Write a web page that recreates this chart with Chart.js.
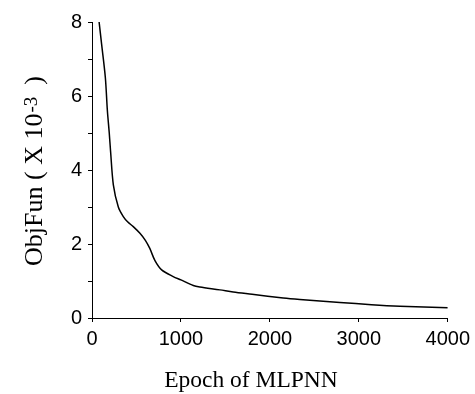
<!DOCTYPE html>
<html>
<head>
<meta charset="utf-8">
<script src="https://cdn.jsdelivr.net/npm/chart.js@4/dist/chart.umd.min.js"></script>
<style>
  body { margin: 0; background: #fff; }
  #wrap { width: 475px; height: 394px; }
</style>
</head>
<body>
<div id="wrap"><canvas id="objFun"></canvas></div>
<script>
// epochs and objective values (x 10^-3)
var epochs = [80, 108, 150, 173, 194, 209, 240, 296, 352, 400, 464, 539, 600, 650, 708, 783, 913, 1000, 1139, 1213, 1438, 1588, 1800, 2150, 2337, 2787, 3142, 3461, 4000];
var objFun = [8.0, 7.4, 6.5, 5.6, 5.0, 4.5, 3.6, 3.0, 2.74, 2.6, 2.47, 2.29, 2.1, 1.88, 1.55, 1.3, 1.12, 1.03, 0.88, 0.84, 0.76, 0.70, 0.64, 0.54, 0.50, 0.42, 0.36, 0.32, 0.28];
var xTicks = [0, 1000, 2000, 3000, 4000];
var yTicks = [0, 2, 4, 6, 8];
var xTitle = 'Epoch of MLPNN';
var yTitle = ['ObjFun ( X 10', '-3', '  )'];

var pts = epochs.map(function(e, i) { return { x: e, y: objFun[i] }; });

// axis titles drawn by hand so the exponent can be raised
var titles = {
    id: 'titles',
    afterDraw: function(c) {
        var ctx = c.ctx;
        ctx.save();
        ctx.fillStyle = '#000';
        ctx.textBaseline = 'alphabetic';

        ctx.font = '23.5px "Liberation Serif"';
        ctx.textAlign = 'left';
        var w = ctx.measureText(xTitle).width;
        ctx.fillText(xTitle, 251 - w / 2, 387);

        ctx.translate(42, 171);
        ctx.rotate(-Math.PI / 2);
        var big = '26px "Liberation Serif"', small = '19px "Liberation Serif"';
        ctx.font = big; var w0 = ctx.measureText(yTitle[0]).width;
        ctx.font = small; var w1 = ctx.measureText(yTitle[1]).width;
        ctx.font = big; var w2 = ctx.measureText(yTitle[2]).width;
        var x0 = -(w0 + w1 + w2) / 2;
        ctx.fillText(yTitle[0], x0, 0);
        ctx.fillText(yTitle[2], x0 + w0 + w1, 0);
        ctx.font = small;
        ctx.fillText(yTitle[1], x0 + w0 + 1, -5);
        ctx.restore();
    }
};

var g = document.getElementById("objFun").getContext('2d');

var chart = new Chart(g, {
    type: 'line',
    data: {
        datasets: [{
            data: pts,
            borderColor: '#000',
            borderWidth: 1.5,
            pointRadius: 0,
            tension: 0.3,
            fill: false
        }]
    },
    options: {
        responsive: true,
        maintainAspectRatio: false,
        animation: false,
        layout: { padding: { top: 22, right: 27, left: 0, bottom: 0 } },
        plugins: { legend: { display: false }, tooltip: { enabled: false } },
        scales: {
            x: {
                type: 'linear',
                min: 0, max: 4000,
                afterFit: function(s) { s.height = 76; },
                border: { color: '#000', width: 1 },
                grid: { drawOnChartArea: false, tickLength: 4, color: '#000' },
                ticks: {
                    stepSize: 500,
                    padding: 5,
                    maxRotation: 0,
                    color: '#000',
                    font: { family: 'Liberation Sans', size: 20 },
                    callback: function(v) { return xTicks.indexOf(v) >= 0 ? v : ''; }
                }
            },
            y: {
                min: 0, max: 8,
                afterFit: function(s) { s.width = 92; },
                border: { color: '#000', width: 1 },
                grid: { drawOnChartArea: false, tickLength: 4, color: '#000' },
                ticks: {
                    stepSize: 1,
                    padding: 6,
                    color: '#000',
                    font: { family: 'Liberation Sans', size: 20 },
                    callback: function(v) { return yTicks.indexOf(v) >= 0 ? v : ''; }
                }
            }
        }
    },
    plugins: [titles]
});
</script>
</body>
</html>
